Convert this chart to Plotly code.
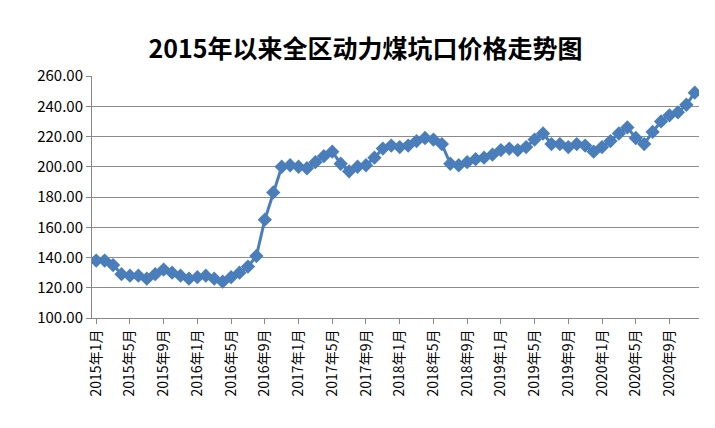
import plotly.graph_objects as go

months = [f"{y}年{m}月" for y in range(2015, 2021) for m in range(1, 13)]
prices = [
    138, 138, 135, 129, 128, 128, 126, 129, 132, 130, 128, 126,
    127, 128, 126, 124, 127, 130, 134, 141, 165, 183, 200, 201,
    200, 199, 203, 207, 210, 202, 197, 200, 201, 206, 212, 214,
    213, 214, 217, 219, 218, 215, 202, 201, 203, 205, 206, 208,
    211, 212, 211, 213, 218, 222, 215, 215, 213, 215, 214, 210,
    213, 217, 222, 226, 219, 215, 223, 230, 234, 236, 241, 249,
]
tick_labels = months[::4]

fig = go.Figure(go.Scatter(
    x=months, y=prices, mode="lines+markers",
    line=dict(color="#4A7EBB", width=3),
    marker=dict(symbol="diamond", size=11, color="#4A7EBB"),
))
fig.update_layout(
    width=715, height=428,
    margin=dict(l=84, r=24, t=68, b=118, autoexpand=False),
    paper_bgcolor="white", plot_bgcolor="white",
    title=dict(text="<b>2015年以来全区动力煤坑口价格走势图</b>", x=0.5, y=0.925,
               xanchor="center", font=dict(size=25, color="black", family="Noto Sans CJK SC")),
    font=dict(family="Noto Sans CJK SC", size=14, color="black"),
    showlegend=False,
)
fig.update_xaxes(tickmode="array", tickvals=tick_labels, ticktext=tick_labels,
                 tickangle=-90, showgrid=False, showline=True, linecolor="#888",
                 ticks="outside", ticklen=5, tickcolor="#888", range=[-0.5, 71.5])
fig.update_yaxes(range=[100, 260], dtick=20, tickformat=".2f", gridcolor="#8c8c8c",
                 showline=True, linecolor="#888", ticks="outside", tickcolor="#888",
                 tickfont=dict(size=15))
fig.write_html("out.html")
